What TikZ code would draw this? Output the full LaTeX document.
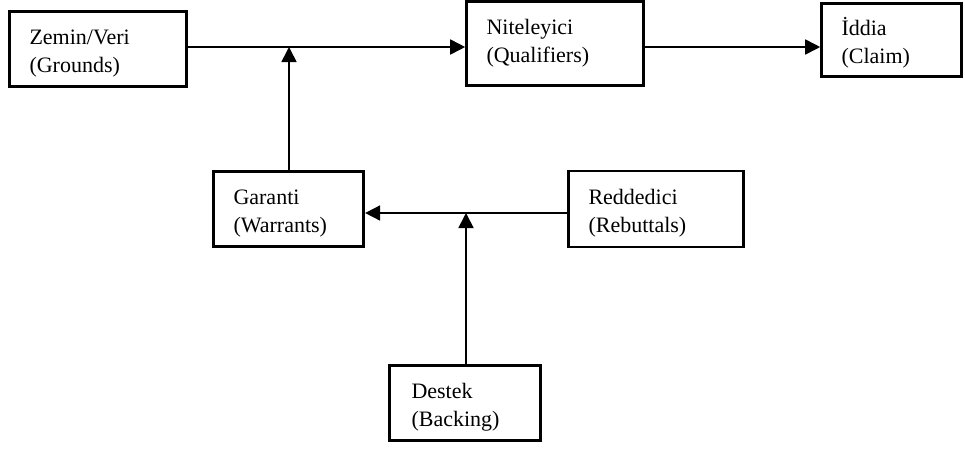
\documentclass[tikz,border=0pt]{standalone}
\usepackage{fontspec}
\setmainfont{Liberation Serif}
\usetikzlibrary{arrows.meta}
\newcommand{\lowr}{\rule{0pt}{24pt}}
\begin{document}
\begin{tikzpicture}[x=1pt,y=-1pt,
  box/.style={draw, line width=2.6pt, align=left, inner xsep=20pt, inner ysep=0pt,
    font=\fontsize{22}{28}\selectfont, anchor=center},
  thickbox/.style={box, line width=3.2pt},
  arr/.style={line width=1.7pt, -{Triangle[length=15pt,width=15pt]}}]
\useasboundingbox (0,0) rectangle (965,448);
\node[thickbox, minimum width=177pt, minimum height=75pt, text width=137pt] (zem) at (98,49) {\lowr Zemin/Veri\\(Grounds)};
\node[box, minimum width=177pt, minimum height=84pt, text width=137pt] (nit) at (555,43.5) {Niteleyici\\(Qualifiers)};
\node[box, minimum width=140pt, minimum height=73pt, text width=100pt] (idd) at (891.5,40) {\lowr İddia\\(Claim)};
\node[thickbox, minimum width=150pt, minimum height=75pt, text width=110pt] (gar) at (288.5,209) {\lowr Garanti\\(Warrants)};
\node[box, minimum width=175pt, minimum height=76pt, text width=135pt] (red) at (656,209) {\lowr Reddedici\\(Rebuttals)};
\node[thickbox, minimum width=151pt, minimum height=75pt, text width=107pt, inner xsep=22pt] (des) at (465,403) {\lowr Destek\\(Backing)};
\coordinate (j1) at (289,47);
\coordinate (j2) at (466,213);
\draw[arr] (zem.east |- j1) -- (nit.west |- j1);
\draw[arr] (nit.east |- j1) -- (idd.west |- j1);
\draw[arr] (gar.north -| j1) -- (j1);
\draw[arr] (red.west |- j2) -- (gar.east |- j2);
\draw[arr] (des.north -| j2) -- (j2);
\end{tikzpicture}
\end{document}
